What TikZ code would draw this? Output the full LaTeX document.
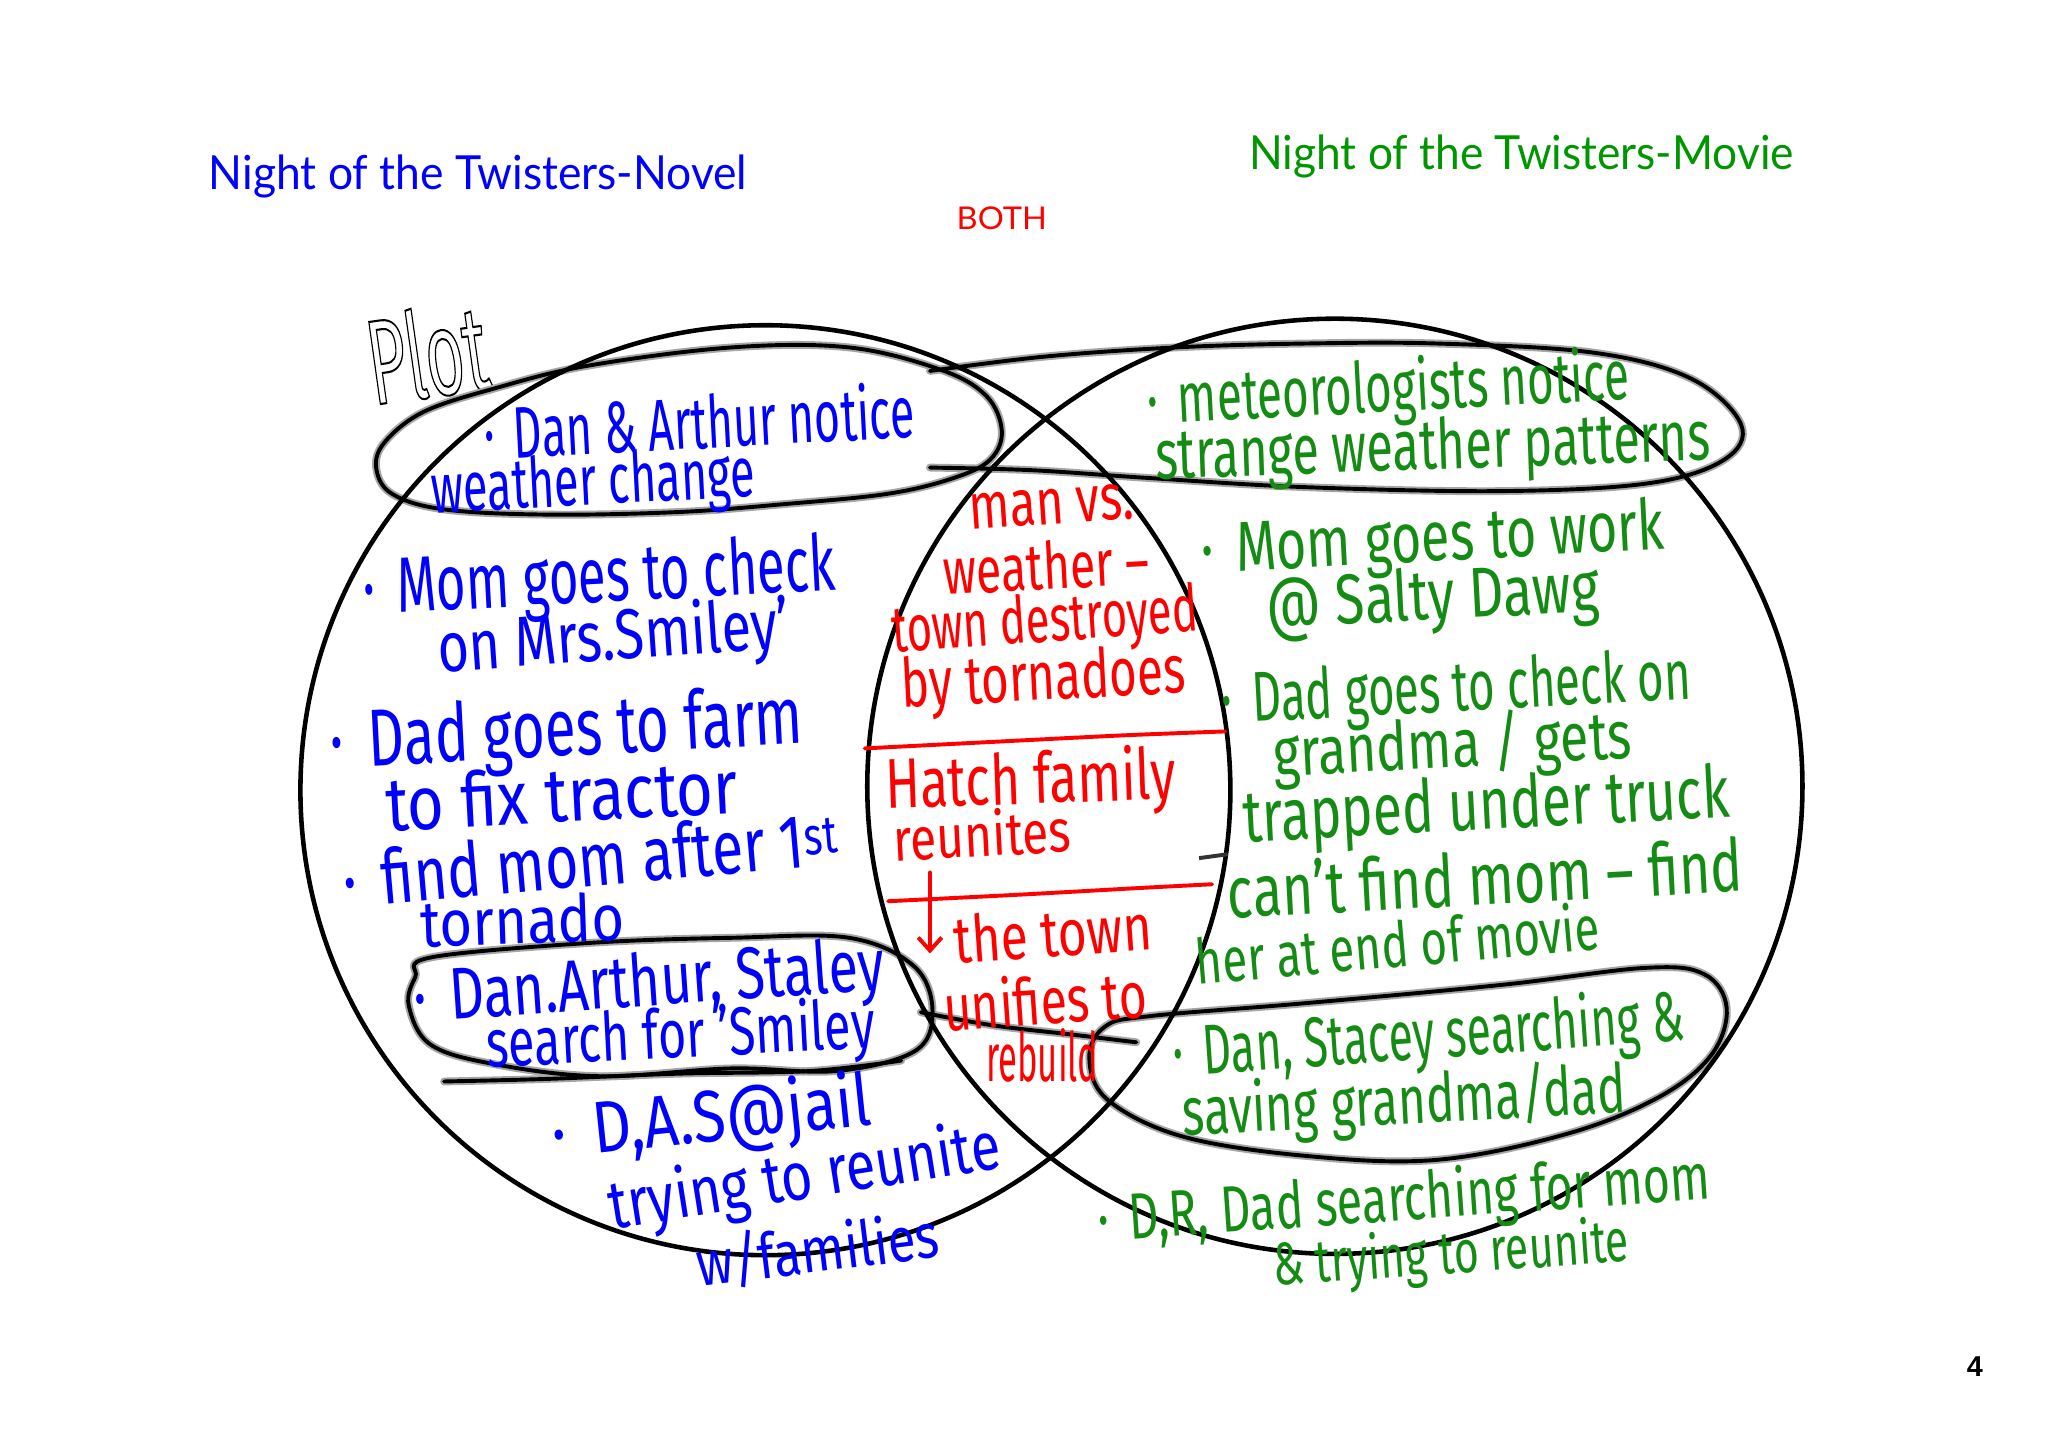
\documentclass[tikz,border=0pt]{standalone}
\usepackage{fontspec}
\usepackage{graphicx}
\setmainfont{Fira Sans}
\newfontfamily\titlefont{Lato}
\newfontfamily\boldfont{Liberation Sans}
\usetikzlibrary{arrows.meta}
\definecolor{hblue}{RGB}{0,0,255}
\definecolor{hred}{RGB}{255,0,0}
\definecolor{hgreen}{RGB}{20,140,20}
\definecolor{tgreen}{RGB}{0,150,0}
\newcommand\hw[2]{\resizebox{#1pt}{\height}{#2}}
\newcommand\outlinetext[1]{\special{pdf:literal direct 1 Tr 1.6 w}#1\special{pdf:literal direct 0 Tr}}
\tikzset{
  hand/.style={font=\fontsize{#1}{#1}\selectfont, inner sep=0pt},
  bt/.style={hand=#1, text=hblue},
  rt/.style={hand=#1, text=hred},
  gt/.style={hand=#1, text=hgreen},
  circ/.style={line width=3.5pt, black},
  halo/.style={line width=6pt, black!35, line cap=round, line join=round},
  blob/.style={line width=3pt, black, line cap=round, line join=round},
  redline/.style={line width=3pt, hred, line cap=round},
}
\begin{document}
\begin{tikzpicture}[x=1pt,y=-1pt]
\useasboundingbox (0,0) rectangle (1568,1108);
\fill[white] (0,0) rectangle (1568,1108);

% titles
\node[font=\fontsize{36}{36}\selectfont\titlefont, text=hblue, inner sep=0pt] (tl) at (366,135) {\hw{412}{Night of the Twisters-Novel}};
\node[font=\fontsize{36}{36}\selectfont\titlefont, text=tgreen, inner sep=0pt] (tr) at (1165,120) {\hw{417}{Night of the Twisters-Movie}};
\node[font=\fontsize{24}{24}\selectfont\titlefont, text=hred, inner sep=0pt] (both) at (767,167) {\hw{69}{BOTH}};
\node[font=\fontsize{22}{22}\selectfont\boldfont\bfseries, inner sep=0pt] (pg) at (1512,1046) {4};

% Plot
\node[hand=92, text=black, rotate=8] (plot) at (327,270) {\hw{92}{\outlinetext{Plot}}};

% blobs
\def\blobA{(325,315) (380,297) (450,280) (560,266) (650,266) (720,283) (755,303) (767,330) (758,352) (730,366) (680,378) (600,386) (520,392) (420,394) (340,390) (300,378) (288,358) (295,338)}
\def\blobC{(330,733) (450,722) (560,718) (650,718) (700,740) (714,775) (700,805) (640,820) (560,818) (460,824) (380,815) (330,800) (313,770) (318,748)}
\def\blobD{(880,778) (1000,768) (1150,754) (1260,741) (1305,746) (1322,772) (1310,808) (1270,840) (1200,868) (1100,888) (1000,885) (905,870) (848,842) (834,810) (846,786)}
\foreach \s in {halo,blob}{
  \draw[\s] plot[smooth cycle, tension=0.6] coordinates {\blobA};
  \draw[\s] plot[smooth, tension=0.6] coordinates {(712,284) (800,273) (900,266) (1000,263) (1100,263) (1220,270) (1295,290) (1333,325) (1320,352) (1262,370) (1150,376) (1000,373) (880,366) (790,360) (712,358)};
  \draw[\s] plot[smooth cycle, tension=0.6] coordinates {\blobC};
  \draw[\s] plot[smooth, tension=0.6] coordinates {(340,828) (420,826) (520,822) (620,820) (690,812)};
  \draw[\s] plot[smooth cycle, tension=0.6] coordinates {\blobD};
  \draw[\s] plot[smooth, tension=0.6] coordinates {(705,775) (760,785) (820,792) (870,798)};
}

% circles
\draw[circ] (586,605) circle[radius=356];
\draw[circ] (1022,602) circle[radius=358];

% small black tick
\draw[line width=3pt, black!80] (918,657) -- (940,654);

% red separators and arrow
\draw[redline] plot[smooth] coordinates {(662,573) (760,568) (860,563) (938,560)};
\draw[redline] plot[smooth] coordinates {(680,690) (780,685) (870,680) (928,677)};
\coordinate (ar1) at (712,668);
\coordinate (ar2) at (712,730);
\draw[redline, -{Straight Barb[length=10pt,width=18pt]}] (ar1) -- (ar2);

% blue text
\node[bt=56, rotate=3] (b1) at (535,322) {\hw{330}{·\, Dan \& Arthur notice}};
\node[bt=54, rotate=3] (b2) at (454,372) {\hw{248}{weather change}};
\node[bt=60, rotate=3] (b3) at (459,445) {\hw{362}{·\, Mom goes to check}};
\node[bt=54, rotate=4] (b4) at (470,490) {\hw{270}{on Mrs.Smiley'}};
\node[bt=62, rotate=3] (b5) at (434,562) {\hw{362}{·\, Dad goes to farm}};
\node[bt=58, rotate=3] (b6) at (430,608) {\hw{270}{to fix tractor}};
\node[bt=58, rotate=5] (b7) at (452,657) {\hw{380}{·\, find mom after 1\textsuperscript{st}}};
\node[bt=50, rotate=2] (b8) at (400,704) {\hw{156}{tornado}};
\node[bt=56, rotate=4] (b9) at (497,755) {\hw{361}{·\, Dan.Arthur, Staley}};
\node[bt=52, rotate=3] (b10) at (521,795) {\hw{298}{search for 'Smiley}};
\node[bt=56, rotate=6] (b11) at (545,858) {\hw{245}{·\, D,A.S@jail}};
\node[bt=52, rotate=9] (b12) at (616,903) {\hw{303}{trying to reunite}};
\node[bt=48, rotate=7] (b13) at (626,957) {\hw{187}{w/families}};

% red text
\node[rt=50, rotate=4] (r1) at (805,388) {\hw{126}{man vs.}};
\node[rt=50, rotate=3] (r2) at (801,433) {\hw{158}{weather –}};
\node[rt=50, rotate=4] (r3) at (800,478) {\hw{235}{town destroyed}};
\node[rt=52, rotate=3] (r4) at (799,522) {\hw{218}{by tornadoes}};
\node[rt=54, rotate=2] (r5) at (789,600) {\hw{222}{Hatch family}};
\node[rt=46, rotate=3] (r6) at (752,638) {\hw{136}{reunites}};
\node[rt=50, rotate=4] (r7) at (806,714) {\hw{152}{the town}};
\node[rt=50, rotate=4] (r8) at (800,765) {\hw{156}{unifies to}};
\node[rt=52] (r9) at (798,808) {\hw{86}{rebuild}};

% green text
\node[gt=54, rotate=3] (g1) at (1063,300) {\hw{370}{·\, meteorologists notice}};
\node[gt=54, rotate=2] (g2) at (1097,345) {\hw{425}{strange weather patterns}};
\node[gt=54, rotate=3] (g3) at (1097,415) {\hw{355}{·\, Mom goes to work}};
\node[gt=54, rotate=3] (g4) at (1097,460) {\hw{255}{@ Salty Dawg}};
\node[gt=54, rotate=3] (g5) at (1115,530) {\hw{360}{·\, Dad goes to check on}};
\node[gt=52, rotate=3] (g6) at (1112,572) {\hw{275}{grandma / gets}};
\node[gt=56, rotate=3] (g7) at (1138,620) {\hw{373}{trapped under truck}};
\node[gt=56, rotate=3] (g8) at (1137,672) {\hw{395}{can't find mom – find}};
\node[gt=48, rotate=5] (g9) at (1070,722) {\hw{310}{her at end of movie}};
\node[gt=54, rotate=4] (g10) at (1094,795) {\hw{392}{·\, Dan, Stacey searching \&}};
\node[gt=52, rotate=3] (g11) at (1075,845) {\hw{340}{saving grandma/dad}};
\node[gt=50, rotate=4] (g12) at (1075,920) {\hw{470}{·\, D,R, Dad searching for mom}};
\node[gt=46, rotate=4] (g13) at (1111,962) {\hw{273}{\& trying to reunite}};
\end{tikzpicture}
\end{document}
